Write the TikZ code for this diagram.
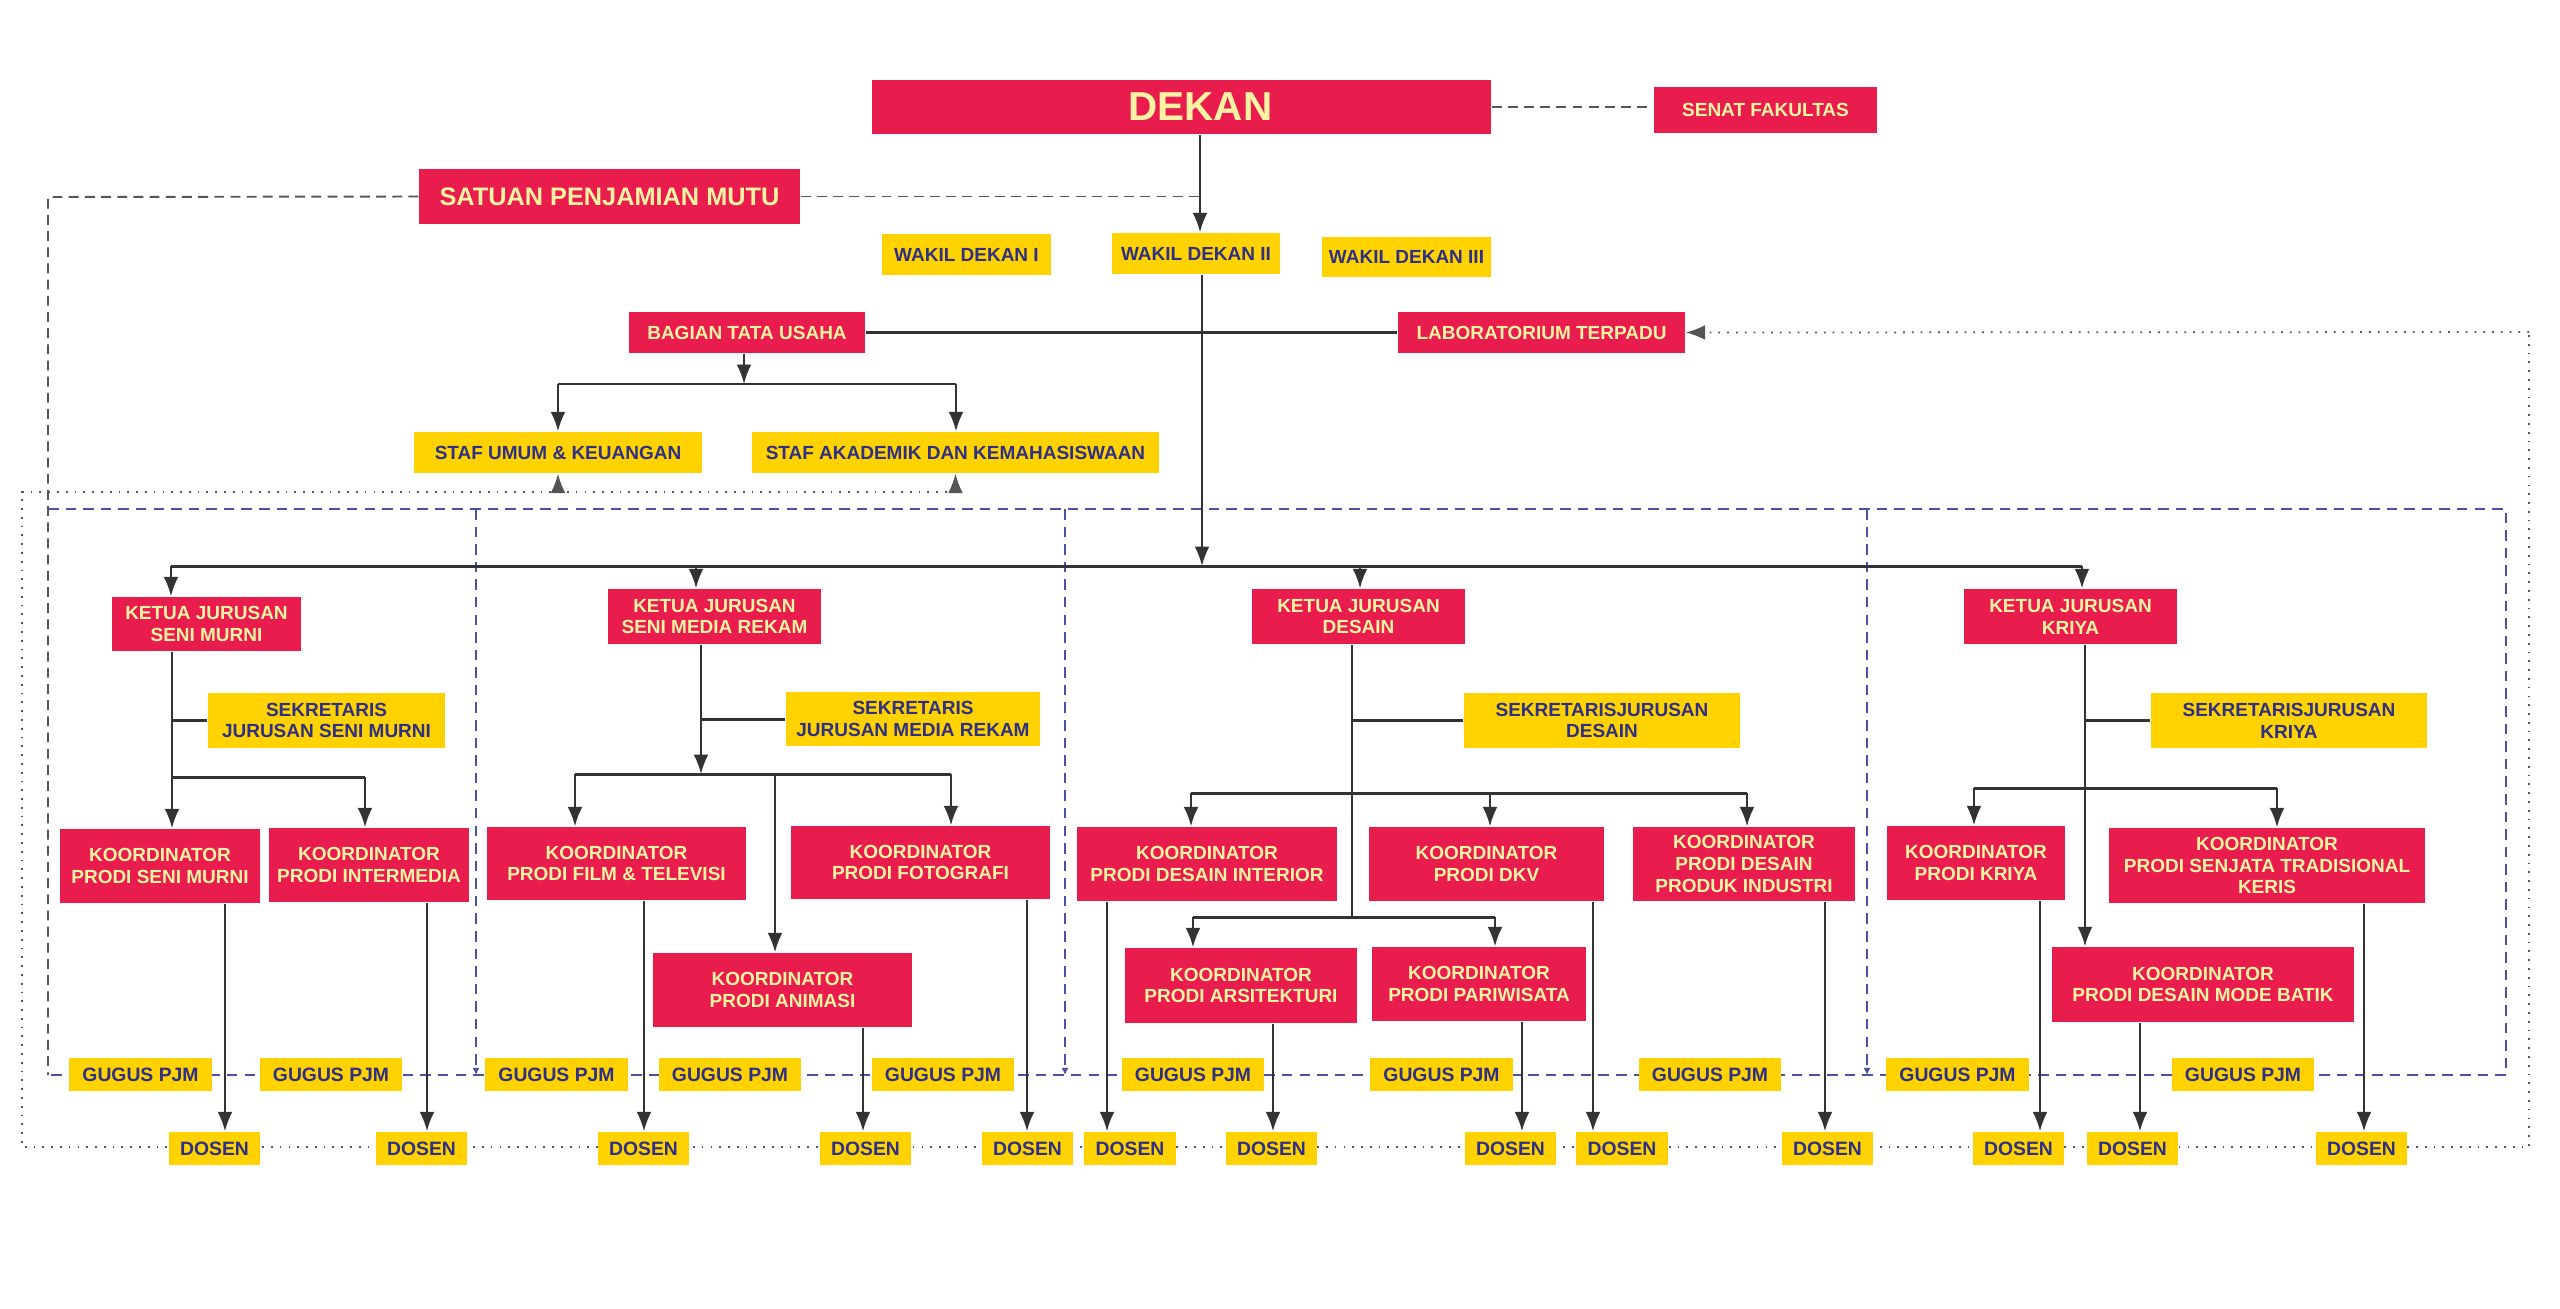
\documentclass[tikz,border=0pt]{standalone}
\usepackage{fontspec}
\setmainfont{Liberation Sans}
\usetikzlibrary{arrows.meta,backgrounds}
\definecolor{rd}{HTML}{E81D4E}
\definecolor{yl}{HTML}{FFD200}
\definecolor{cream}{HTML}{FFF3A3}
\definecolor{navy}{HTML}{2E2F86}
\definecolor{lc}{HTML}{333333}
\definecolor{bl}{HTML}{4A52A3}
\definecolor{dg}{HTML}{555555}
\tikzset{
 base/.style={inner sep=0pt, align=center, font=\bfseries\fontsize{5.4}{6.2}\selectfont},
 rbox/.style={base, fill=rd, text=cream},
 ybox/.style={base, fill=yl, text=navy},
 ln/.style={draw=lc, line width=0.6pt},
 thk/.style={draw=lc, line width=0.85pt},
 arr/.style={ln, -{Latex[length=5.5pt,width=4.2pt]}},
 dotl/.style={draw=dg, line width=0.5pt, dotted},
 dotarr/.style={dotl, -{Latex[length=5.5pt,width=4.2pt]}},
 dsh/.style={draw=dg, line width=0.55pt, dash pattern=on 2.8pt off 1.8pt},
 bdash/.style={draw=bl, line width=0.6pt, dash pattern=on 3pt off 2pt},
 tinytip/.style={bdash, -{Latex[length=2pt,width=2pt]}},
}
\newcommand\obox[7]{\node[#1, minimum width={(#5-#3)*0.01cm}, minimum height={(#6-#4)*0.01cm}] (#2) at ({(#3+#5)/2},{(#4+#6)/2}) {#7};}
\begin{document}
\begin{tikzpicture}[x=0.01cm,y=-0.01cm]
\useasboundingbox (0,0) rectangle (2560,1309);

% top
\obox{rbox,font=\bfseries\fontsize{11.5}{13}\selectfont}{dekan}{872}{80}{1491}{134}{\hspace*{0.38cm}DEKAN}
\obox{rbox}{senat}{1654}{87}{1877}{133}{SENAT FAKULTAS}
\obox{rbox,font=\bfseries\fontsize{7.2}{8}\selectfont}{spm}{419}{169}{800}{224}{SATUAN PENJAMIAN MUTU}
\obox{ybox}{wd1}{882}{234}{1051}{275}{WAKIL DEKAN I}
\obox{ybox}{wd2}{1112}{233}{1280}{274}{WAKIL DEKAN II}
\obox{ybox}{wd3}{1322}{237}{1491}{277}{WAKIL DEKAN III}
\obox{rbox}{btu}{629}{312}{865}{353}{BAGIAN TATA USAHA}
\obox{rbox}{lab}{1398}{312}{1685}{353}{LABORATORIUM TERPADU}
\obox{ybox}{su}{414}{432}{702}{473}{STAF UMUM \& KEUANGAN}
\obox{ybox}{sa}{752}{432}{1159}{473}{STAF AKADEMIK DAN KEMAHASISWAAN}

% ketua jurusan
\obox{rbox}{kjsm}{112}{597}{301}{651}{KETUA JURUSAN\\SENI MURNI}
\obox{rbox}{kjmr}{608}{589}{821}{644}{KETUA JURUSAN\\SENI MEDIA REKAM}
\obox{rbox}{kjd}{1252}{589}{1465}{644}{KETUA JURUSAN\\DESAIN}
\obox{rbox}{kjk}{1964}{589}{2177}{644}{KETUA JURUSAN\\KRIYA}

% sekretaris
\obox{ybox}{ssm}{208}{693}{445}{748}{SEKRETARIS\\JURUSAN SENI MURNI}
\obox{ybox}{smr}{786}{692}{1040}{746}{SEKRETARIS\\JURUSAN MEDIA REKAM}
\obox{ybox}{sd}{1464}{693}{1740}{748}{SEKRETARISJURUSAN\\DESAIN}
\obox{ybox}{sk}{2151}{693}{2427}{748}{SEKRETARISJURUSAN\\KRIYA}

% koordinator
\obox{rbox}{psm}{60}{829}{260}{903}{KOORDINATOR\\PRODI SENI MURNI}
\obox{rbox}{pin}{269}{828}{469}{902}{KOORDINATOR\\PRODI INTERMEDIA}
\obox{rbox}{pft}{487}{827}{746}{900}{KOORDINATOR\\PRODI FILM \& TELEVISI}
\obox{rbox}{pfo}{791}{826}{1050}{899}{KOORDINATOR\\PRODI FOTOGRAFI}
\obox{rbox}{pan}{653}{953}{912}{1027}{KOORDINATOR\\PRODI ANIMASI}
\obox{rbox}{pdi}{1077}{827}{1337}{901}{KOORDINATOR\\PRODI DESAIN INTERIOR}
\obox{rbox}{pdkv}{1369}{827}{1604}{901}{KOORDINATOR\\PRODI DKV}
\obox{rbox}{ppi}{1633}{827}{1855}{901}{KOORDINATOR\\PRODI DESAIN\\PRODUK INDUSTRI}
\obox{rbox}{par}{1125}{948}{1357}{1023}{KOORDINATOR\\PRODI ARSITEKTURI}
\obox{rbox}{ppw}{1372}{947}{1586}{1021}{KOORDINATOR\\PRODI PARIWISATA}
\obox{rbox}{pkr}{1887}{826}{2065}{900}{KOORDINATOR\\PRODI KRIYA}
\obox{rbox}{pst}{2109}{828}{2425}{903}{KOORDINATOR\\PRODI SENJATA TRADISIONAL\\KERIS}
\obox{rbox}{pmb}{2052}{947}{2354}{1022}{KOORDINATOR\\PRODI DESAIN MODE BATIK}

% gugus pjm
\foreach \n/\a/\b in {1/69/212,2/260/402,3/485/628,4/659/801,5/872/1014,6/1122/1264,7/1370/1513,8/1639/1781,9/1886/2029,10/2172/2314}
  {\obox{ybox,font=\bfseries\fontsize{5.5}{6.2}\selectfont}{g\n}{\a}{1058}{\b}{1091}{GUGUS PJM}}
% dosen
\foreach \n/\a/\b in {1/169/260,2/376/467,3/598/689,4/820/911,5/982/1073,6/1084/1176,7/1226/1317,8/1465/1556,9/1576/1668,10/1782/1873,11/1973/2064,12/2087/2178,13/2316/2407}
  {\obox{ybox,font=\bfseries\fontsize{5.5}{6.2}\selectfont}{d\n}{\a}{1132}{\b}{1165}{DOSEN}}

% coordinates
\coordinate (dl) at (1200,0);
\coordinate (hub) at (1202,566);
\coordinate (t1) at (171,566);
\coordinate (t2) at (696,566);
\coordinate (t3) at (1360,566);
\coordinate (t4) at (2082,566);
\coordinate (b0) at (744,384);
\coordinate (b1) at (558,384);
\coordinate (b2) at (956,384);
\coordinate (sm1) at (172,777);
\coordinate (sm2) at (365,777);
\coordinate (mr0) at (701,774);
\coordinate (mr1) at (575,774);
\coordinate (mr2) at (951,774);
\coordinate (mr3) at (775,774);
\coordinate (ds0) at (1352,917);
\coordinate (ds1) at (1191,793);
\coordinate (ds2) at (1490,793);
\coordinate (ds3) at (1747,793);
\coordinate (ds4) at (1193,917);
\coordinate (ds5) at (1495,917);
\coordinate (kr0) at (2085,788);
\coordinate (kr1) at (1974,788);
\coordinate (kr2) at (2277,788);
\coordinate (o1) at (22,492);
\coordinate (o2) at (22,1147);
\coordinate (o3) at (2529,1147);
\coordinate (o4) at (2529,332);
\coordinate (sp1) at (48,197);
\coordinate (sp2) at (48,1075);
\coordinate (bb1) at (48,509);
\coordinate (bb2) at (2506,509);
\coordinate (bb3) at (2506,1075);

\begin{pgfonlayer}{background}
\fill[white] (0,0) rectangle (2560,1309);
% blue dashed frame
\draw[bdash] (bb1) -- (bb2) -- (bb3) -- (sp2);
\foreach \x in {476,1065,1867}{\draw[tinytip] (\x,509) -- (\x,1075);}
% SPM dashed
\draw[dsh] (spm.west) -- (sp1) -- (sp2);
\draw[dsh] (spm.east) -- (spm.east -| dl);
\draw[dsh] (dekan.east) -- (dekan.east -| senat.west);
% dotted loop
\draw[dotl] (sa.south |- o1) -- (o1) -- (o2) -- (o3) -- (o4);
\draw[dotarr] (o4) -- (lab.east);
\draw[dotarr] (su.south |- o1) -- (su.south);
\draw[dotarr] (sa.south |- o1) -- (sa.south);
% main structure
\draw[arr] (dekan.south -| dl) -- (wd2.north -| dl);
\draw[thk] (btu.east) -- (lab.west);
\draw[arr] (wd2.south -| hub) -- (hub);
\draw[thk] (t1) -- (t4);
\draw[arr] (t1) -- (kjsm.north -| t1);
\draw[arr] (t2) -- (kjmr.north -| t2);
\draw[arr] (t3) -- (kjd.north -| t3);
\draw[arr] (t4) -- (kjk.north -| t4);
% BTU
\draw[arr] (btu.south -| b0) -- (b0);
\draw[thk] (b1) -- (b2);
\draw[arr] (b1) -- (su.north -| b1);
\draw[arr] (b2) -- (sa.north -| b2);
% seni murni
\draw[ln] (kjsm.south -| sm1) -- (sm1);
\draw[thk] (ssm.west) -- (ssm.west -| sm1);
\draw[thk] (sm1) -- (sm2);
\draw[arr] (sm1) -- (psm.north -| sm1);
\draw[arr] (sm2) -- (pin.north -| sm2);
% media rekam
\draw[arr] (kjmr.south -| mr0) -- (mr0);
\draw[thk] (smr.west) -- (smr.west -| mr0);
\draw[thk] (mr1) -- (mr2);
\draw[arr] (mr1) -- (pft.north -| mr1);
\draw[arr] (mr2) -- (pfo.north -| mr2);
\draw[arr] (mr3) -- (pan.north -| mr3);
% desain
\draw[ln] (kjd.south -| ds0) -- (ds0);
\draw[thk] (sd.west) -- (sd.west -| ds0);
\draw[thk] (ds1) -- (ds3);
\draw[arr] (ds1) -- (pdi.north -| ds1);
\draw[arr] (ds2) -- (pdkv.north -| ds2);
\draw[arr] (ds3) -- (ppi.north -| ds3);
\draw[thk] (ds4) -- (ds5);
\draw[arr] (ds4) -- (par.north -| ds4);
\draw[arr] (ds5) -- (ppw.north -| ds5);
% kriya
\draw[arr] (kjk.south -| kr0) -- (pmb.north -| kr0);
\draw[thk] (sk.west) -- (sk.west -| kr0);
\draw[thk] (kr1) -- (kr2);
\draw[arr] (kr1) -- (pkr.north -| kr1);
\draw[arr] (kr2) -- (pst.north -| kr2);
% koordinator -> dosen
\foreach \s/\d/\x in {psm/d1/225,pin/d2/427,pft/d3/644,pan/d4/863,pfo/d5/1027,pdi/d6/1107,par/d7/1273,ppw/d8/1522,pdkv/d9/1593,ppi/d10/1825,pkr/d11/2040,pmb/d12/2140,pst/d13/2364}
  {\coordinate (tmp) at (\x,0); \draw[arr] (\s.south -| tmp) -- (\d.north -| tmp);}
\end{pgfonlayer}
\end{tikzpicture}
\end{document}
